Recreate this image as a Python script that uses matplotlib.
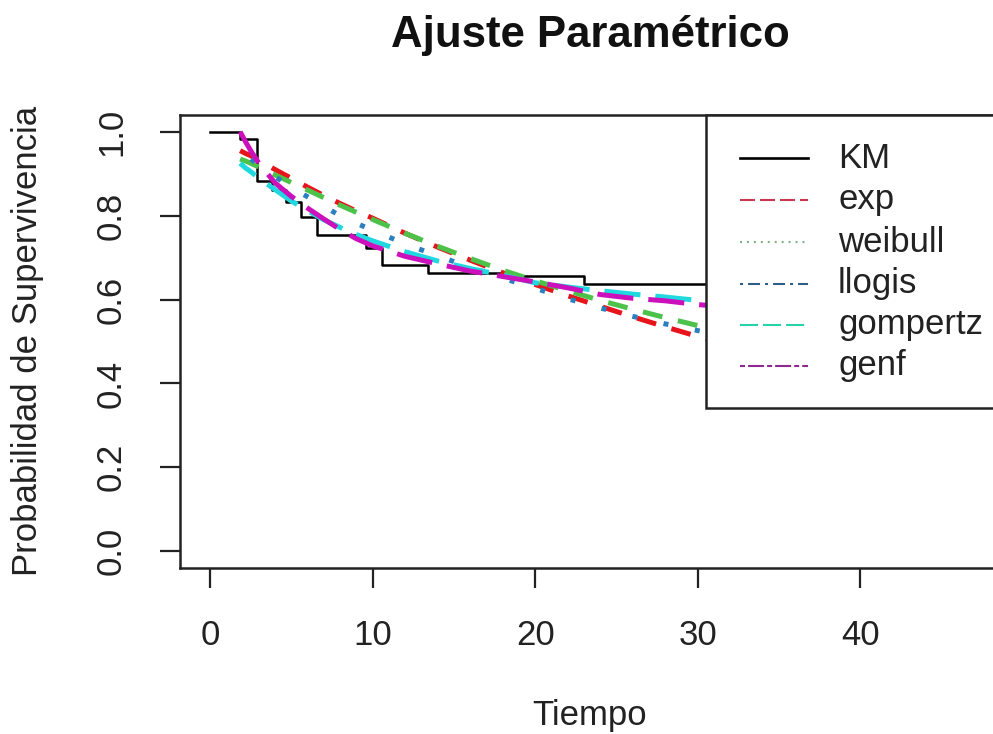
import matplotlib

matplotlib.use("Agg")
import matplotlib.pyplot as plt
from matplotlib.lines import Line2D
from matplotlib.patches import Rectangle

plt.rcParams["font.family"] = ["Liberation Sans", "DejaVu Sans"]
plt.rcParams["lines.scale_dashes"] = False

# Kaplan-Meier steps (time, survival)
km_time = [0, 1.85, 2.9, 3.8, 4.7, 5.6, 6.6, 9.6, 10.6, 13.4, 18.2, 23.0, 46.7]
km_surv = [1.0, 0.983, 0.882, 0.861, 0.833, 0.796, 0.754, 0.724, 0.682, 0.664,
           0.655, 0.636, 0.636]

# fitted parametric curves, sampled at these times
fit_time = [1.85, 2.2, 2.5, 3, 4, 5, 6, 7, 8, 9, 10, 12, 14, 16, 18, 20, 22,
            24, 26, 28, 30, 32]
surv_exp = [0.955, 0.948, 0.943, 0.932, 0.910, 0.889, 0.868, 0.848, 0.829,
            0.811, 0.794, 0.758, 0.725, 0.694, 0.664, 0.636, 0.609, 0.584,
            0.559, 0.535, 0.512, 0.490]
surv_weibull = [0.935, 0.930, 0.925, 0.916, 0.897, 0.879, 0.861, 0.843, 0.825,
                0.808, 0.791, 0.758, 0.727, 0.698, 0.670, 0.645, 0.621, 0.598,
                0.577, 0.557, 0.538, 0.520]
surv_llogis = [0.950, 0.942, 0.935, 0.922, 0.893, 0.867, 0.845, 0.822, 0.800,
               0.782, 0.765, 0.733, 0.704, 0.677, 0.651, 0.627, 0.602, 0.580,
               0.560, 0.542, 0.526, 0.511]
surv_gompertz = [0.925, 0.913, 0.905, 0.889, 0.862, 0.835, 0.812, 0.790, 0.772,
                 0.755, 0.740, 0.714, 0.692, 0.674, 0.658, 0.640, 0.630, 0.621,
                 0.613, 0.606, 0.598, 0.592]
surv_genf = [1.0, 0.975, 0.955, 0.925, 0.878, 0.846, 0.818, 0.792, 0.767,
             0.745, 0.728, 0.703, 0.685, 0.668, 0.655, 0.642, 0.628, 0.612,
             0.603, 0.597, 0.588, 0.582]

labels = ["KM", "exp", "weibull", "llogis", "gompertz", "genf"]
colors = ["black", "#E8141C", "#4CC24A", "#2A7FC0", "#20D8E0", "#CC10BB"]

fig = plt.figure(figsize=(9.93, 7.34), dpi=100)
# plot box runs a bit past the right edge of the picture, like the original
ax = fig.add_axes([180 / 993, 166 / 734, 820 / 993, 453 / 734])
ax.set_xlim(-1.85, 48.6)
ax.set_ylim(-0.04, 1.04)

ax.step(km_time, km_surv, where="post", color="black", lw=1.8, zorder=2)

curves = [surv_exp, surv_weibull, surv_llogis, surv_gompertz, surv_genf]
dashes = [(14.4, 11.5), (14.4, 11.5), (3.6, 19.4), (26, 10.8), (26, 10.8)]
offsets = [0, 0, 14, 12, 0]
for s, c, d, off in zip(curves, colors[1:], dashes, offsets):
    ax.plot(fit_time, s, color=c, lw=3.6, linestyle=(off, d), zorder=3)

ax.set_xticks([0, 10, 20, 30, 40])
ax.set_yticks([0, 0.2, 0.4, 0.6, 0.8, 1.0])
ax.set_yticklabels(["0.0", "0.2", "0.4", "0.6", "0.8", "1.0"],
                   rotation=90, va="center")
ax.tick_params(direction="out", length=14.5, width=1.6, labelsize=25,
               color="#222222", labelcolor="#222222")
ax.tick_params(axis="x", pad=22)
ax.tick_params(axis="y", pad=23)
for sp in ax.spines.values():
    sp.set_linewidth(1.8)
    sp.set_color("#222222")

fig.text(590 / 993, 1 - 36 / 734, "Ajuste Paramétrico", ha="center",
         va="center", fontsize=31.5, fontweight="bold", color="#111111")
fig.text(590 / 993, 1 - 715 / 734, "Tiempo", ha="center", va="center",
         fontsize=25, color="#222222")
fig.text(28 / 993, 1 - 341 / 734, "Probabilidad de Supervivencia",
         ha="center", va="center", rotation=90, fontsize=25, color="#222222")

# legend box drawn by hand so it sits exactly where R put it
box = Rectangle((706 / 993, 1 - 408 / 734), 0.4, 293 / 734,
                transform=fig.transFigure, facecolor="white",
                edgecolor="#222222", lw=1.8, zorder=5)
fig.add_artist(box)
leg_dashes = [None, (10.8, 3.6), (1.4, 3.6), (2.2, 3.6, 8.6, 3.6),
              (13, 3.6), (3.6, 2.2, 11.5, 2.2)]
leg_colors = ["black", "#C8384E", "#7FAF7F", "#2F5F86", "#28D2AA", "#8E2A8E"]
row_y = [158, 200, 242, 284, 325, 366]
for lab, c, d, y in zip(labels, leg_colors, leg_dashes, row_y):
    yf = 1 - y / 734
    ln = Line2D([740 / 993, 808 / 993], [yf, yf], transform=fig.transFigure,
                color=c, lw=1.5 if d else 1.9, zorder=6)
    if d:
        ln.set_dashes(d)
    fig.add_artist(ln)
    fig.text(838 / 993, yf, lab, ha="left", va="center", fontsize=25,
             color="#222222", zorder=6)

fig.savefig("out.png", dpi=100)
plt.close(fig)
